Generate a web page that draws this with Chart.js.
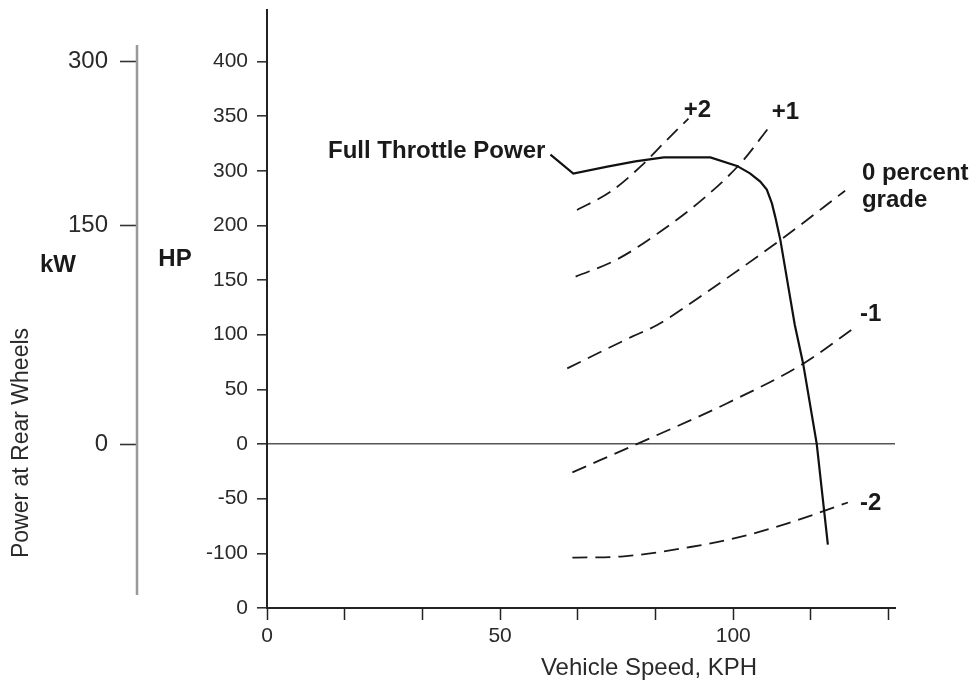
<!DOCTYPE html>
<html>
<head>
<meta charset="utf-8">
<script src="https://cdn.jsdelivr.net/npm/chart.js@4.4.1/dist/chart.umd.min.js"></script>
<style>
  html, body { margin: 0; padding: 0; background: #fff; }
  #wrap { width: 976px; height: 689px; }
</style>
</head>
<body>
<div id="wrap"><canvas id="powerChart" width="976" height="689"></canvas></div>
<script>
// values: speed in KPH, power in HP-axis position units
const fullSpeed = [60.8, 65.7, 73.0, 79.0, 85.1, 95.1, 100.8, 103.6, 105.8, 107.2, 108.3, 109.0, 110.1, 113.2, 115.0, 117.9, 120.3];
const fullPower = [264.7, 247.3, 253.7, 258.5, 262.2, 262.2, 254.4, 247.6, 240.0, 232.7, 220.1, 208.0, 186.9, 109.1, 73.5, 0.5, -92.1];

const plus2Speed = [66.5, 73.7, 80.1, 85.4, 90.4];
const plus2Power = [214.1, 230.8, 253.7, 276.6, 297.6];

const plus1Speed = [66.2, 75.1, 84.4, 92.9, 101.5, 107.9];
const plus1Power = [153.1, 168.9, 194.4, 221.9, 256.4, 290.9];

const zeroSpeed = [64.4, 78.3, 83.7, 92.9, 110.1, 124.0];
const zeroPower = [69.2, 98.2, 108.9, 134.8, 186.6, 231.7];

const minus1Speed = [65.5, 83.7, 98.6, 115.1, 125.8];
const minus1Power = [-25.9, 8.2, 37.1, 73.7, 105.8];

const minus2Speed = [65.5, 76.5, 90.8, 101.5, 111.5, 124.6];
const minus2Power = [-104.0, -102.7, -94.2, -85.0, -72.8, -53.5];

// axis ticks (the printed HP labels skip 250, so positions and labels differ)
const hpTickPos = [-150, -100, -50, 0, 50, 100, 150, 200, 250, 300, 350];
const hpTickLabels = ['0', '-100', '-50', '0', '50', '100', '150', '200', '300', '350', '400'];
const kwTickPos = [0, 200, 350];
const kwTickLabels = ['0', '150', '300'];
const speedTickPos = [0, 50 / 3, 100 / 3, 50, 200 / 3, 250 / 3, 100, 350 / 3, 400 / 3];
const speedTickLabels = ['0', '', '', '50', '', '', '100', '', ''];

// curve labels, anchored in data units
const curveLabels = [
  { text: 'Full Throttle Power', x: 59.7, y: 267.5, align: 'right' },
  { text: '+2', x: 92.3, y: 305, align: 'center' },
  { text: '+1', x: 111.2, y: 303, align: 'center' },
  { text: '0 percent', x: 127.6, y: 247.5, align: 'left' },
  { text: 'grade', x: 127.6, y: 222.7, align: 'left' },
  { text: '-1', x: 127.2, y: 118.4, align: 'left' },
  { text: '-2', x: 127.2, y: -54.7, align: 'left' },
];

const FONT = "'Liberation Sans', Arial, Helvetica, sans-serif";
const pts = (xs, ys) => xs.map((x, i) => ({ x: x, y: ys[i] }));

const dashed = {
  borderColor: '#1a1a1a',
  borderWidth: 1.8,
  borderDash: [15, 8],
  pointRadius: 0,
  cubicInterpolationMode: 'monotone',
};

/* extra texts and the short kW axis line */
const annotate = {
  id: 'annotate',
  afterDatasetsDraw(chart) {
    const ctx = chart.ctx;
    const x = chart.scales.x;
    const y = chart.scales.y;
    const kw = chart.scales.kw;
    ctx.save();

    // kW axis line (shorter than the plot)
    ctx.strokeStyle = '#999';
    ctx.lineWidth = 2.5;
    ctx.beginPath();
    ctx.moveTo(kw.right - 1, y.getPixelForValue(365));
    ctx.lineTo(kw.right - 1, y.getPixelForValue(-138));
    ctx.stroke();

    ctx.fillStyle = '#1a1a1a';
    ctx.textBaseline = 'middle';
    ctx.font = 'bold 24px ' + FONT;
    curveLabels.forEach((l) => {
      ctx.textAlign = l.align;
      ctx.fillText(l.text, x.getPixelForValue(l.x), y.getPixelForValue(l.y));
    });

    ctx.textAlign = 'center';
    ctx.fillText('kW', 58, 265);
    ctx.fillText('HP', 175, 259);

    ctx.fillStyle = '#2a2a2a';
    ctx.font = '24px ' + FONT;
    ctx.fillText('Vehicle Speed, KPH', 649, 668);

    ctx.font = '23px ' + FONT;
    ctx.translate(22, 443);
    ctx.rotate(-Math.PI / 2);
    ctx.fillText('Power at Rear Wheels', 0, 0);
    ctx.restore();
  },
};

const noPad = (s) => { s.paddingTop = 0; s.paddingBottom = 0; };

new Chart(document.getElementById('powerChart'), {
  type: 'line',
  data: {
    datasets: [
      {
        label: 'Full Throttle Power',
        data: pts(fullSpeed, fullPower),
        borderColor: '#111',
        borderWidth: 2.2,
        pointRadius: 0,
        tension: 0,
      },
      { label: '+2', data: pts(plus2Speed, plus2Power), ...dashed },
      { label: '+1', data: pts(plus1Speed, plus1Power), ...dashed },
      { label: '0 percent grade', data: pts(zeroSpeed, zeroPower), ...dashed },
      { label: '-1', data: pts(minus1Speed, minus1Power), ...dashed },
      { label: '-2', data: pts(minus2Speed, minus2Power), ...dashed },
    ],
  },
  options: {
    responsive: false,
    animation: false,
    layout: { padding: { top: 10, right: 81, left: 0, bottom: 0 } },
    plugins: {
      legend: { display: false },
      tooltip: { enabled: false },
    },
    scales: {
      x: {
        type: 'linear',
        min: 0,
        max: 134.7,
        afterFit: (s) => { s.height = 81; s.paddingLeft = 0; s.paddingRight = 0; },
        afterBuildTicks: (s) => { s.ticks = speedTickPos.map((v) => ({ value: v })); },
        border: { color: '#222', width: 2 },
        grid: { drawOnChartArea: false, tickLength: 12, tickColor: '#222', tickWidth: 1.5 },
        ticks: {
          autoSkip: false,
          maxRotation: 0,
          padding: 4,
          color: '#2a2a2a',
          font: { family: FONT, size: 21 },
          callback: (v, i) => speedTickLabels[i],
        },
      },
      y: {
        type: 'linear',
        position: 'left',
        weight: 0,
        min: -150,
        max: 397,
        afterFit: (s) => { s.width = 129; noPad(s); },
        afterBuildTicks: (s) => { s.ticks = hpTickPos.map((v) => ({ value: v })); },
        border: { color: '#222', width: 2 },
        grid: {
          drawOnChartArea: true,
          tickLength: 10,
          lineWidth: 1.6,
          color: (c) => (c.tick && c.tick.value === 0 ? '#555' : 'rgba(0,0,0,0)'),
          tickColor: '#333',
          tickWidth: 1.6,
        },
        ticks: {
          autoSkip: false,
          padding: 9,
          color: '#2a2a2a',
          font: { family: FONT, size: 21 },
          callback: (v) => hpTickLabels[hpTickPos.indexOf(v)],
        },
      },
      kw: {
        type: 'linear',
        position: 'left',
        weight: 1,
        min: -150,
        max: 397,
        afterFit: (s) => { s.width = 138; noPad(s); },
        afterBuildTicks: (s) => { s.ticks = kwTickPos.map((v) => ({ value: v })); },
        border: { display: false },
        grid: { drawOnChartArea: false, tickLength: 18, tickColor: '#333', tickWidth: 1.6 },
        ticks: {
          autoSkip: false,
          padding: 12,
          color: '#2a2a2a',
          font: { family: FONT, size: 24 },
          callback: (v) => kwTickLabels[kwTickPos.indexOf(v)],
        },
      },
    },
  },
  plugins: [annotate],
});
</script>
</body>
</html>
